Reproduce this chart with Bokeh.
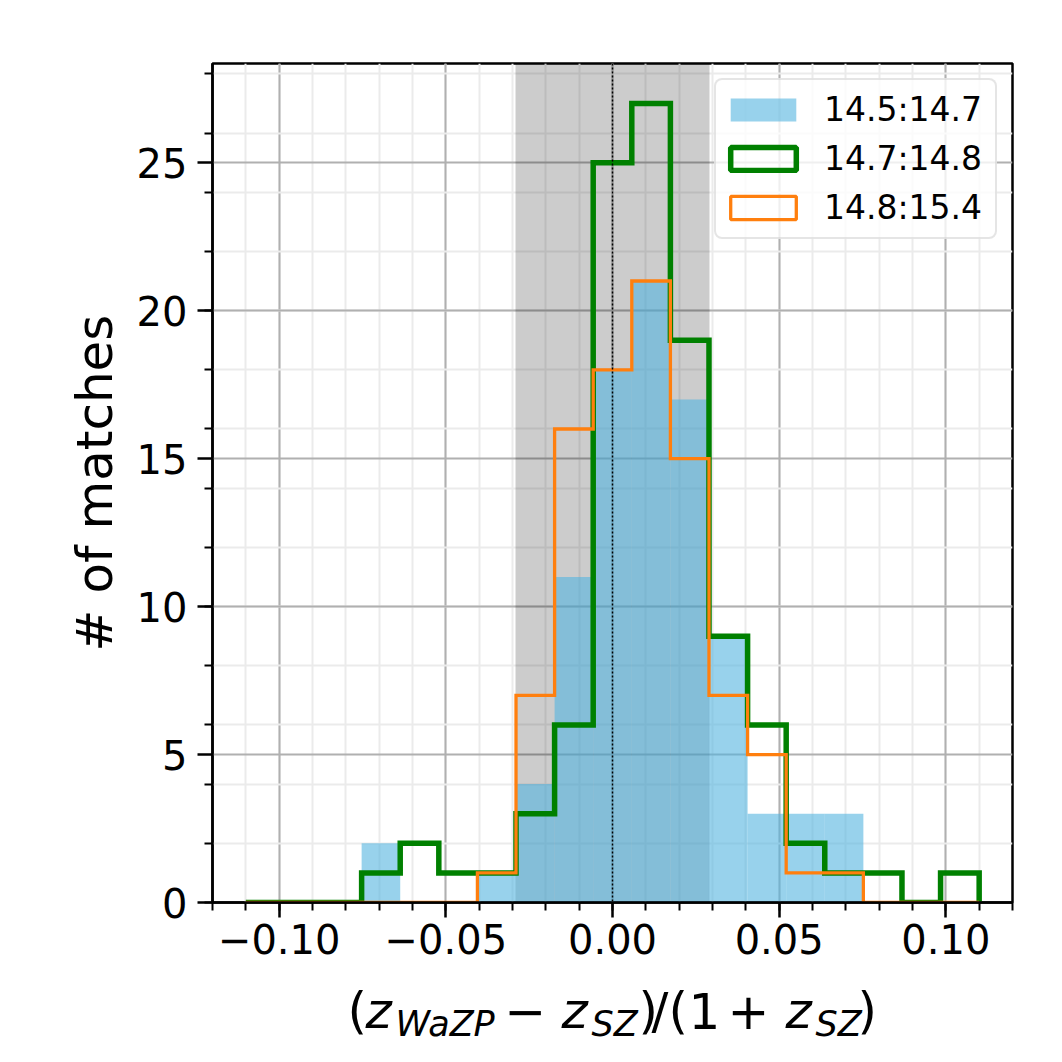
import numpy as np
from bokeh.plotting import figure
from bokeh.layouts import column
from bokeh.models import (ColumnDataSource, Legend, LegendItem, FixedTicker,
                          CustomJSTickFormatter, Span, Range1d)
from bokeh.core.properties import value
from bokeh.embed import file_html
from bokeh.resources import INLINE

# ---------------- data ----------------
bin_lo, bin_hi, n_bins = -0.11, 0.11, 19
counts_a = [0, 0, 0, 2, 0, 0, 1, 4, 11, 18, 21, 17, 9, 3, 3, 3, 0, 0, 0]   # 14.5:14.7
counts_b = [0, 0, 0, 1, 2, 1, 1, 3, 6, 25, 27, 19, 9, 6, 2, 1, 1, 0, 1]    # 14.7:14.8
counts_c = [0, 0, 0, 0, 0, 0, 1, 7, 16, 18, 21, 15, 7, 5, 1, 1, 0, 0, 0]   # 14.8:15.4
series_labels = ["14.5:14.7", "14.7:14.8", "14.8:15.4"]
band_lo, band_hi = -0.029, 0.029
x_major = [-0.10, -0.05, 0.0, 0.05, 0.10]
x_minor = [round(-0.12 + 0.01 * i, 2) for i in range(25)]
y_major = [0, 5, 10, 15, 20, 25]
y_minor = list(range(0, 29, 2))
x_lim = (-0.12, 0.12)
y_lim = (0, 28.35)

edges = np.linspace(bin_lo, bin_hi, n_bins + 1)

def stairs(counts):
    xs = np.repeat(edges, 2)
    ys = np.concatenate([[0], np.repeat(counts, 2), [0]])
    return xs, ys

FONT = "DejaVu Sans"
BLUE = "#53b4df"
GREEN = "green"
ORANGE = "#ff7f0e"
W = 1046
LABEL_H = 70
FRAME_L, FRAME_R, FRAME_T, FRAME_B = 212, 1012, 63, 902

p = figure(width=W, height=W - LABEL_H, output_backend="svg", toolbar_location=None,
           x_range=Range1d(*x_lim), y_range=Range1d(*y_lim),
           min_border_left=FRAME_L, min_border_right=W - FRAME_R,
           min_border_top=FRAME_T, min_border_bottom=W - LABEL_H - FRAME_B)
p.background_fill_color = "white"
p.border_fill_color = "white"
p.outline_line_color = "black"
p.outline_line_width = 2.5

# ticks / grid
xt = FixedTicker(ticks=x_major, minor_ticks=x_minor)
yt = FixedTicker(ticks=y_major, minor_ticks=y_minor)
p.xaxis.ticker = xt
p.yaxis.ticker = yt
p.xgrid.ticker = xt
p.ygrid.ticker = yt
p.xaxis.formatter = CustomJSTickFormatter(
    code="return (tick < -1e-9 ? '\u2212' : '') + Math.abs(tick).toFixed(2);")
for g in (p.xgrid, p.ygrid):
    g.grid_line_color = "#b0b0b0"
    g.grid_line_width = 2
    g.minor_grid_line_color = "#ebebeb"
    g.minor_grid_line_width = 2
for ax in (p.xaxis, p.yaxis):
    ax.axis_line_color = "black"
    ax.axis_line_width = 2.5
    ax.major_tick_line_color = "black"
    ax.major_tick_line_width = 2.5
    ax.minor_tick_line_color = "black"
    ax.minor_tick_line_width = 2
    ax.major_tick_in = 0
    ax.major_tick_out = 15
    ax.minor_tick_in = 0
    ax.minor_tick_out = 8
    ax.major_label_text_font = FONT
    ax.major_label_text_font_size = "40px"
    ax.major_label_text_color = "black"
p.xaxis.major_label_standoff = 6
p.yaxis.major_label_standoff = 10
p.yaxis.axis_label = "# of matches"
p.yaxis.axis_label_text_font = FONT
p.yaxis.axis_label_text_font_size = "50px"
p.yaxis.axis_label_text_font_style = "normal"
p.yaxis.axis_label_text_color = "black"
p.yaxis.axis_label_standoff = 10

# shaded band
p.vstrip(x0=[band_lo], x1=[band_hi], fill_color="black", fill_alpha=0.2, line_color=None)

# filled histogram
r_a = p.quad(left=edges[:-1], right=edges[1:], bottom=0, top=counts_a,
             fill_color=BLUE, fill_alpha=0.6, line_color=None)

# step histograms
xb, yb = stairs(counts_b)
p.line(xb, yb, line_color=GREEN, line_width=5.5, line_join="miter")
xc, yc = stairs(counts_c)
p.line(xc, yc, line_color=ORANGE, line_width=3.3, line_join="miter")

# legend-only renderers (outlined boxes); NaN geometry so nothing is drawn in the plot
def legend_proxy(color, lw):
    src = ColumnDataSource(dict(left=[np.nan], right=[np.nan], bottom=[np.nan], top=[np.nan]))
    return p.quad(source=src, left="left", right="right", bottom="bottom", top="top",
                  fill_color=None, line_color=color, line_width=lw)

r_b = legend_proxy(GREEN, 5.5)
r_c = legend_proxy(ORANGE, 3.3)

p.add_layout(Span(location=0, dimension="height", line_color="black",
                  line_dash="2 2", line_width=1.5))

legend = Legend(items=[LegendItem(label=series_labels[0], renderers=[r_a]),
                       LegendItem(label=series_labels[1], renderers=[r_b]),
                       LegendItem(label=series_labels[2], renderers=[r_c])],
                location="top_right")
legend.label_text_font = FONT
legend.label_text_font_size = "33px"
legend.label_text_color = "black"
legend.glyph_width = 82
legend.glyph_height = 29
legend.label_standoff = 20
legend.label_width = 165
legend.label_height = 47
legend.spacing = 2
legend.padding = 6
legend.margin = 15
legend.border_line_color = "#cccccc"
legend.border_line_width = 2.5
legend.border_radius = 8
legend.background_fill_alpha = 0.8
p.add_layout(legend)

# ---------------- x-axis label (mathtext-like) in a text strip ----------------
lab = figure(width=W, height=LABEL_H, output_backend="svg", toolbar_location=None,
             x_range=p.x_range, y_range=Range1d(0, LABEL_H),
             x_axis_location=None, y_axis_location=None, title=None,
             min_border_left=FRAME_L, min_border_right=W - FRAME_R,
             min_border_top=0, min_border_bottom=0)
lab.grid.visible = False
lab.outline_line_color = None
lab.background_fill_color = "white"
lab.border_fill_color = "white"

px_per_unit = (FRAME_R - FRAME_L) / (x_lim[1] - x_lim[0])
x_zero = (FRAME_L + FRAME_R) / 2

def to_x(page_x):
    return [(v - x_zero) / px_per_unit for v in page_x]

mid_main = 36     # vertical middle of the big glyphs, up from the strip bottom
mid_sub = 23
big_norm = dict(t=["(", "\u2212", ")", "/", "(", "1", "+", ")"],
                x=[347, 504, 638, 651, 668, 688, 727, 857])
big_ital = dict(t=["z", "z", "z"], x=[365, 561, 785])
sub_ital = dict(t=["WaZP", "SZ", "SZ"], x=[395, 591, 815])

lab.text(x=to_x(big_norm["x"]), y=[mid_main] * len(big_norm["x"]), text=big_norm["t"],
         text_font=value(FONT), text_font_size="50px", text_font_style="normal",
         text_align="left", text_baseline="middle", text_color="black")
lab.text(x=to_x(big_ital["x"]), y=[mid_main] * len(big_ital["x"]), text=big_ital["t"],
         text_font=value(FONT), text_font_size="50px", text_font_style="italic",
         text_align="left", text_baseline="middle", text_color="black")
lab.text(x=to_x(sub_ital["x"]), y=[mid_sub] * len(sub_ital["x"]), text=sub_ital["t"],
         text_font=value(FONT), text_font_size="35px", text_font_style="italic",
         text_align="left", text_baseline="middle", text_color="black")

layout = column(p, lab, spacing=0)
open("out.html", "w").write(file_html(layout, INLINE))
